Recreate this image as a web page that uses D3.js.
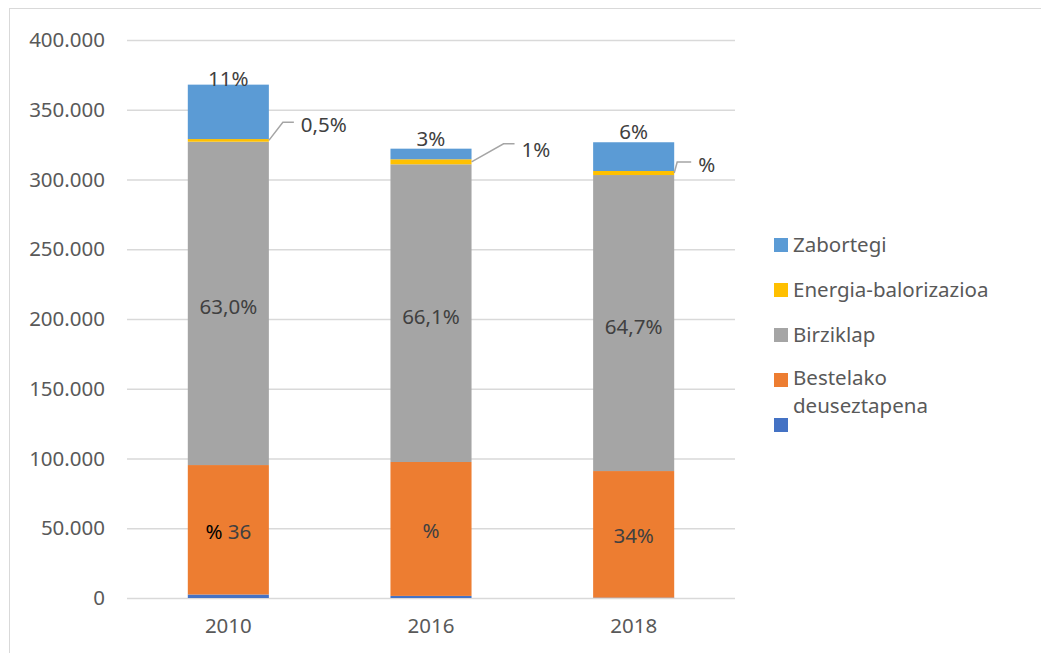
<!DOCTYPE html>
<html>
<head>
<meta charset="utf-8">
<script src="https://cdn.jsdelivr.net/npm/d3@7"></script>
<style>
  body { margin: 0; background: #fff; }
  text { font-family: "Noto Sans", "Open Sans", sans-serif; }
</style>
</head>
<body>
<script>
// data (tonnes)
var years = ["2010", "2016", "2018"];
var seriesNames = ["", "Bestelako deuseztapena", "Birziklap", "Energia-balorizazioa", "Zabortegi"];
var otherValues = [2500, 1500, 300];
var bestelakoValues = [92800, 96000, 90700];
var birziklapValues = [231800, 213400, 212200];
var energiaValues = [1900, 3600, 2900];
var zabortegiValues = [39000, 7600, 20600];
var yTicks = [0, 50000, 100000, 150000, 200000, 250000, 300000, 350000, 400000];

// data labels as shown
var bestelakoLabels = ["% 36", "%", "34%"];
var birziklapLabels = ["63,0%", "66,1%", "64,7%"];
var energiaLabels = ["0,5%", "1%", "%"];
var zabortegiLabels = ["11%", "3%", "6%"];

var colors = ["#4472C4", "#ED7D31", "#A5A5A5", "#FFC000", "#5B9BD5"];

var width = 1041, height = 653;
var plot = {left: 127, right: 735, top: 40, bottom: 598};
var fontSize = 20.5;

var svg = d3.select("body").append("svg")
  .attr("width", width)
  .attr("height", height);

// chart frame
svg.append("rect")
  .attr("x", 9.5).attr("y", 8.5)
  .attr("width", width + 20).attr("height", height + 20)
  .attr("fill", "#fff")
  .attr("stroke", "#D9D9D9");

var table = years.map(function(y, i) {
  return {year: y, s0: otherValues[i], s1: bestelakoValues[i], s2: birziklapValues[i],
          s3: energiaValues[i], s4: zabortegiValues[i]};
});
var keys = ["s0", "s1", "s2", "s3", "s4"];
var stacked = d3.stack().keys(keys)(table);

var x = d3.scaleBand()
  .domain(years)
  .range([plot.left, plot.right])
  .paddingInner(0.6)
  .paddingOuter(0.3);

var y = d3.scaleLinear()
  .domain([0, 400000])
  .range([plot.bottom, plot.top]);

var locale = d3.formatLocale({decimal: ",", thousands: ".", grouping: [3], currency: ["", ""]});
var fmt = locale.format(",");

// gridlines
svg.append("g")
  .selectAll("line")
  .data(yTicks)
  .join("line")
    .attr("x1", plot.left).attr("x2", plot.right)
    .attr("y1", function(d) { return y(d) + 0.5; })
    .attr("y2", function(d) { return y(d) + 0.5; })
    .attr("stroke", "#D9D9D9")
    .attr("stroke-width", 1.3);

// y axis labels
var yAxis = svg.append("g")
  .attr("transform", "translate(" + plot.left + ",0)")
  .call(d3.axisLeft(y).tickValues(yTicks).tickFormat(fmt).tickSize(0).tickPadding(22));
yAxis.select(".domain").remove();
yAxis.selectAll("text").attr("font-size", fontSize).attr("fill", "#595959")
  .style("font-family", '"Noto Sans", sans-serif');

// x axis labels
var xAxis = svg.append("g")
  .attr("transform", "translate(0," + plot.bottom + ")")
  .call(d3.axisBottom(x).tickSize(0).tickPadding(20));
xAxis.select(".domain").remove();
xAxis.selectAll("text").attr("font-size", fontSize).attr("fill", "#595959")
  .style("font-family", '"Noto Sans", sans-serif');

// bars
svg.append("g")
  .selectAll("g")
  .data(stacked)
  .join("g")
    .attr("fill", function(d, i) { return colors[i]; })
  .selectAll("rect")
  .data(function(d) { return d; })
  .join("rect")
    .attr("x", function(d) { return x(d.data.year); })
    .attr("y", function(d) { return y(d[1]); })
    .attr("width", x.bandwidth())
    .attr("height", function(d) { return y(d[0]) - y(d[1]); });

var labels = svg.append("g").attr("font-size", fontSize).attr("fill", "#404040");

function midLabel(layer, texts, dy) {
  labels.selectAll(null)
    .data(stacked[layer])
    .join("text")
      .attr("x", function(d) { return x(d.data.year) + x.bandwidth() / 2; })
      .attr("y", function(d) { return (y(d[0]) + y(d[1])) / 2 + dy; })
      .attr("text-anchor", "middle")
      .attr("dominant-baseline", "central")
      .each(function(d, i) {
        var t = d3.select(this), s = texts[i];
        if (s.indexOf("% ") === 0) {
          t.append("tspan").attr("fill", "#000").text("% ");
          t.append("tspan").text(s.slice(2));
        } else {
          t.text(s);
        }
      });
}
midLabel(1, bestelakoLabels, 1);
midLabel(2, birziklapLabels, 3);

// Zabortegi labels above the bar
labels.selectAll(null)
  .data(stacked[4])
  .join("text")
    .attr("x", function(d) { return x(d.data.year) + x.bandwidth() / 2; })
    .attr("y", function(d, i) { return y(d[1]) - (i === 0 ? 7 : 11); })
    .attr("text-anchor", "middle")
    .attr("dominant-baseline", "central")
    .text(function(d, i) { return zabortegiLabels[i]; });

// Energia labels with leader lines
var leader = [{ex: 14, ey: -18, lx: 32, ly: -16}, {ex: 32, ey: -18, lx: 50, ly: -13}, {ex: 3, ey: -11, lx: 24, ly: -9}];
stacked[3].forEach(function(d, i) {
  var x0 = x(d.data.year) + x.bandwidth();
  var y0 = (y(d[0]) + y(d[1])) / 2;
  var o = leader[i];
  svg.append("path")
    .attr("d", "M" + x0 + "," + y0 + "L" + (x0 + o.ex) + "," + (y0 + o.ey) + "L" + (x0 + o.lx - 7) + "," + (y0 + o.ey))
    .attr("fill", "none")
    .attr("stroke", "#A5A5A5")
    .attr("stroke-width", 1.5);
  labels.append("text")
    .attr("x", x0 + o.lx)
    .attr("y", y0 + o.ly)
    .attr("dominant-baseline", "central")
    .text(energiaLabels[i]);
});

// legend
var legendOrder = [4, 3, 2, 1, 0];
var legendY = [245, 290, 335, 380, 425];
var legend = svg.append("g").attr("font-size", fontSize).attr("fill", "#595959");
legendOrder.forEach(function(k, j) {
  legend.append("rect")
    .attr("x", 774).attr("y", legendY[j] - 7)
    .attr("width", 14).attr("height", 14)
    .attr("fill", colors[k]);
  // one text per entry, wrapped into lines with tspans
  var lines = seriesNames[k].split(" ");
  var t = legend.append("text")
    .attr("x", 793)
    .attr("y", legendY[j] + (lines.length > 1 ? 5 : 7));
  lines.forEach(function(w, n) {
    t.append("tspan")
      .attr("x", 793)
      .attr("dy", n === 0 ? 0 : 28)
      .text(w);
  });
});
</script>
</body>
</html>
